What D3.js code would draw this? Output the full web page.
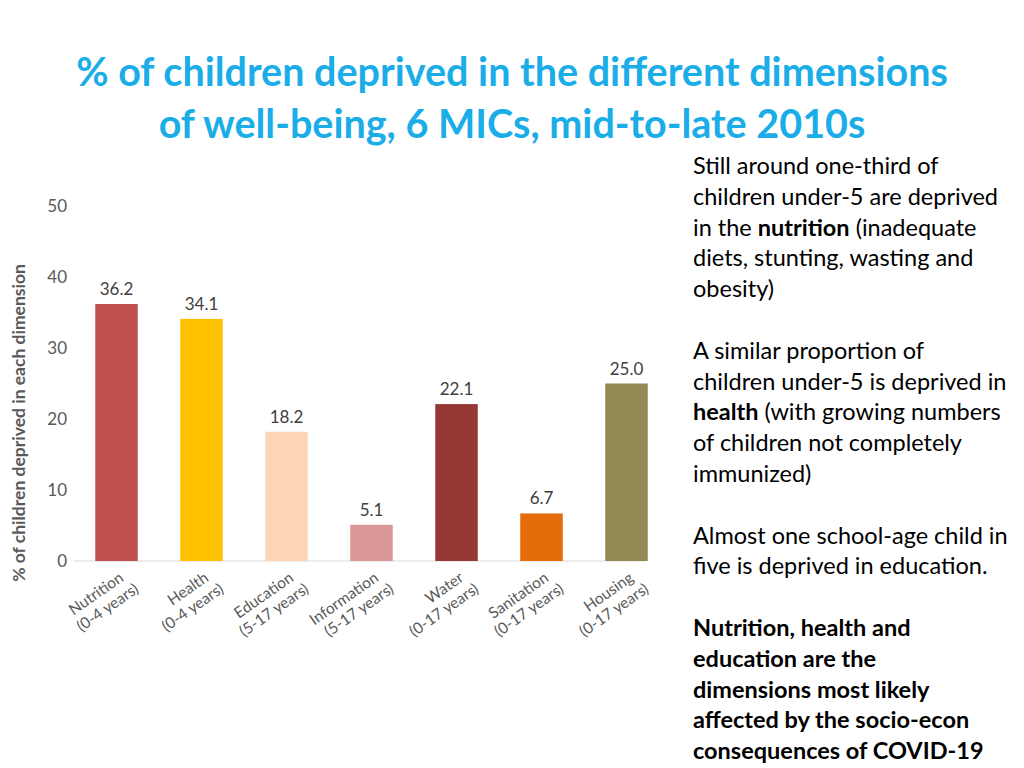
<!DOCTYPE html><html><head><meta charset="utf-8">
<script src="https://cdn.jsdelivr.net/npm/d3@7"></script>
<style>body{margin:0;background:#fff;font-family:Lato,sans-serif}</style></head><body>
<svg id="c" width="1024" height="768"></svg>
<script>
const categories=["Nutrition","Health","Education","Information","Water","Sanitation","Housing"];
const ageRanges=["(0-4 years)","(0-4 years)","(5-17 years)","(5-17 years)","(0-17 years)","(0-17 years)","(0-17 years)"];
const values=[36.2,34.1,18.2,5.1,22.1,6.7,25.0];
const colors=["#C0504D","#FFC000","#FBD5B5","#D99694","#953735","#E46C0A","#948A54"];
const yTicks=[0,10,20,30,40,50];
const svg=d3.select("#c");
const x=d3.scaleBand().domain(categories).range([74,669]).paddingInner(0.5).paddingOuter(0.25);
const y=d3.scaleLinear().domain([0,50]).range([561,206]);
svg.append("text").attr("x",512).attr("y",86).attr("text-anchor","middle").attr("font-size",39.5).attr("font-weight","bold").attr("fill","#1AADE8").text("% of children deprived in the different dimensions");
svg.append("text").attr("x",512).attr("y",138).attr("text-anchor","middle").attr("font-size",39.5).attr("font-weight","bold").attr("fill","#1AADE8").text("of well-being, 6 MICs, mid-to-late 2010s");
const ya=svg.append("g").attr("transform","translate(72,0)").call(d3.axisLeft(y).tickValues(yTicks).tickSize(0).tickPadding(5));
ya.select(".domain").remove();
ya.selectAll("text").attr("font-family","Lato").attr("font-size",17).attr("fill","#595959");
svg.append("line").attr("x1",74).attr("x2",645).attr("y1",561).attr("y2",561).attr("stroke","#d9d9d9");
svg.append("text").attr("transform","translate(25,423) rotate(-90)").attr("text-anchor","middle").attr("font-size",17.5).attr("font-weight","bold").attr("fill","#595959").text("% of children deprived in each  dimension");
svg.selectAll("rect.b").data(categories).join("rect").attr("x",d=>x(d)).attr("width",x.bandwidth()).attr("y",(d,i)=>y(values[i])).attr("height",(d,i)=>561-y(values[i])).attr("fill",(d,i)=>colors[i]);
svg.selectAll("text.v").data(categories).join("text").attr("x",d=>x(d)+x.bandwidth()/2).attr("y",(d,i)=>y(values[i])-9).attr("text-anchor","middle").attr("font-size",17).attr("fill","#404040").text((d,i)=>values[i].toFixed(1));
const xl=svg.selectAll("g.xl").data(categories).join("g").attr("transform",d=>`translate(${x(d)+x.bandwidth()/2+8},580) rotate(-35)`);
xl.append("text").attr("text-anchor","end").attr("x",0).attr("y",0).attr("font-size",15.5).attr("fill","#595959").text(d=>d);
xl.append("text").attr("text-anchor","end").attr("x",6).attr("y",18).attr("font-size",15.5).attr("fill","#595959").text((d,i)=>ageRanges[i]);
const lines=[["Still around one-third of"],["children under-5 are deprived"],["in the ",["nutrition"]," (inadequate"],["diets, stunting, wasting and"],["obesity)"],[""],["A similar proportion of"],["children under-5 is deprived in"],[["health"]," (with growing numbers"],["of children not completely"],["immunized)"],[""],["Almost one school-age child in"],["five is deprived in education."],[""],[["Nutrition, health and"]],[["education are the"]],[["dimensions most likely"]],[["affected by the socio-econ"]],[["consequences of COVID-19"]]];
lines.forEach((l,i)=>{const t=svg.append("text").attr("x",693).attr("y",174+i*30.8).attr("font-size",23.5).attr("fill","#000");
l.forEach(p=>{if(Array.isArray(p))t.append("tspan").attr("font-weight","bold").text(p[0]);else t.append("tspan").text(p);});});
</script></body></html>
